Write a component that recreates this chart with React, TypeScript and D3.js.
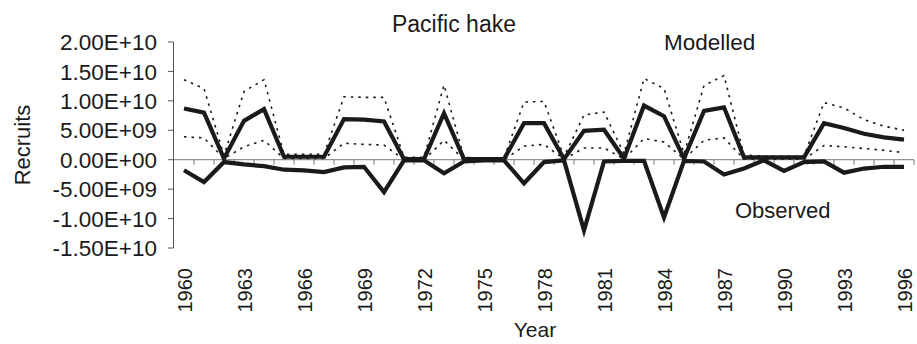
import React from 'react';
import * as d3 from 'd3';

// values in units of 1E+09 recruits
const years = [
  1960, 1961, 1962, 1963, 1964, 1965, 1966, 1967, 1968, 1969,
  1970, 1971, 1972, 1973, 1974, 1975, 1976, 1977, 1978, 1979,
  1980, 1981, 1982, 1983, 1984, 1985, 1986, 1987, 1988, 1989,
  1990, 1991, 1992, 1993, 1994, 1995, 1996,
];
const modelled = [
  8.7, 8.0, 0.2, 6.6, 8.6, 0.5, 0.5, 0.5, 6.9, 6.8,
  6.5, 0.1, 0.1, 7.9, 0.1, 0.1, 0.1, 6.2, 6.2, 0.1,
  4.9, 5.1, 0.2, 9.2, 7.4, 0.2, 8.3, 8.9, 0.4, 0.4,
  0.4, 0.4, 6.2, 5.4, 4.4, 3.8, 3.4,
];
const upperCI = [
  13.6, 12.1, 0.7, 11.6, 13.6, 0.9, 0.9, 0.9, 10.7, 10.6,
  10.6, 0.4, 0.4, 12.7, 0.4, 0.3, 0.3, 9.8, 9.9, 0.5,
  7.6, 8.1, 1.0, 13.8, 12.1, 1.0, 12.6, 14.3, 0.8, 0.6,
  0.6, 0.6, 9.7, 8.8, 6.8, 5.7, 5.0,
];
const lowerCI = [
  3.9, 3.7, 0.2, 2.2, 3.3, 0.2, 0.2, 0.2, 2.8, 2.6,
  2.5, 0.0, 0.0, 3.3, 0.0, 0.0, 0.0, 2.3, 2.6, 0.1,
  2.0, 2.0, 0.1, 3.6, 3.0, 0.1, 3.3, 3.7, 0.1, 0.1,
  0.1, 0.1, 2.4, 2.2, 1.9, 1.6, 1.2,
];
const observed = [
  -1.8, -3.8, -0.4, -0.8, -1.1, -1.7, -1.8, -2.1, -1.3, -1.2,
  -5.5, -0.1, -0.1, -2.3, -0.3, -0.1, -0.1, -4.0, -0.4, -0.1,
  -12.0, -0.3, -0.2, -0.2, -9.8, -0.2, -0.3, -2.5, -1.5, -0.1,
  -1.9, -0.4, -0.3, -2.2, -1.5, -1.2, -1.2,
];
const yTicks = [20, 15, 10, 5, 0, -5, -10, -15];
const yearLabels = [1960, 1963, 1966, 1969, 1972, 1975, 1978, 1981, 1984, 1987, 1990, 1993, 1996];

const W = 917;
const H = 344;
const font = '"Liberation Sans", Arial, sans-serif';
const ink = '#1a1a1a';

// 5.00E+09 style labels, like Excel's scientific format
const sci = (v: number) => {
  const s = d3.format('.2e')(v * 1e9).replace('\u2212', '-');
  const [m, e] = s.split('e');
  const sign = e[0] === '-' || e[0] === '\u2212' ? '-' : '+';
  const digits = e.replace(/[+\-\u2212]/, '').padStart(2, '0');
  return `${m}E${sign}${digits}`;
};

const App = () => {
  const x = d3.scaleBand<number>().domain(years).range([174, 914]).padding(0);
  const y = d3.scaleLinear().domain([-15, 20]).range([248, 42]);
  const cx = (yr: number) => (x(yr) as number) + x.bandwidth() / 2;

  const line = (vals: number[]) =>
    d3.line<number>()
      .x((_, i) => cx(years[i]))
      .y(d => y(d))(vals) as string;

  const y0 = y(0);

  return (
    <svg width={W} height={H} style={{ position: 'absolute', left: 0, top: 0, background: '#fff' }}
      fontFamily={font} fill={ink}>
      {/* y axis */}
      <line x1={173.5} x2={173.5} y1={y(20)} y2={y(-15)} stroke="#555" strokeWidth={1} />
      {yTicks.map(t => (
        <g key={t}>
          <line x1={168} x2={173.5} y1={y(t)} y2={y(t)} stroke="#555" strokeWidth={1} />
          <text x={157} y={y(t)} dy="0.36em" textAnchor="end" fontSize={22.5}>{sci(t)}</text>
        </g>
      ))}
      <text transform={`translate(30,145) rotate(-90)`} textAnchor="middle" fontSize={22}>Recruits</text>

      {/* x axis at zero */}
      <line x1={174} x2={914} y1={y0} y2={y0} stroke="#777" strokeWidth={1} />
      {years.map(yr => (
        <line key={yr} x1={(x(yr) as number) + x.bandwidth()} x2={(x(yr) as number) + x.bandwidth()}
          y1={y0} y2={y0 + 5} stroke="#777" strokeWidth={1} />
      ))}
      {yearLabels.map(yr => (
        <text key={yr} transform={`translate(${cx(yr) + 8},268) rotate(-90)`} textAnchor="end" fontSize={20}>
          {yr}
        </text>
      ))}
      <text x={535} y={337} textAnchor="middle" fontSize={21}>Year</text>

      {/* confidence bounds */}
      <path d={line(upperCI)} fill="none" stroke={ink} strokeWidth={1.6} strokeDasharray="2.5,5" />
      <path d={line(lowerCI)} fill="none" stroke={ink} strokeWidth={1.6} strokeDasharray="2.5,5" />

      {/* series */}
      <path d={line(modelled)} fill="none" stroke={ink} strokeWidth={4.2} strokeLinejoin="miter" />
      <path d={line(observed)} fill="none" stroke={ink} strokeWidth={4.2} strokeLinejoin="miter" />

      <text x={454} y={32} textAnchor="middle" fontSize={23}>Pacific hake</text>
      <text x={664} y={50} fontSize={22.5}>Modelled</text>
      <text x={735} y={218} fontSize={22}>Observed</text>
    </svg>
  );
};

export default App;
